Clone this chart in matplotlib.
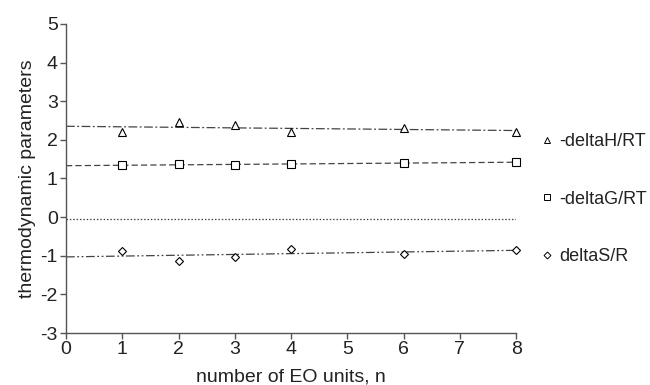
import numpy as np
import matplotlib.pyplot as plt
from matplotlib.lines import Line2D

plt.rcParams['font.family'] = ['Liberation Sans', 'DejaVu Sans']
plt.rcParams['axes.unicode_minus'] = False

# values
n = [1, 2, 3, 4, 6, 8]
dH = [2.21, 2.46, 2.39, 2.20, 2.30, 2.21]
dG = [1.35, 1.37, 1.36, 1.38, 1.41, 1.42]
dS = [-0.89, -1.13, -1.02, -0.82, -0.95, -0.85]

# trend lines (value at n=0 and n=8)
trend_n = [0, 8]
trend_dH = [2.35, 2.24]
trend_dG = [1.33, 1.42]
trend_dS = [-1.03, -0.86]
zero_line = [-0.05, -0.05]

labels = ['-deltaH/RT', '-deltaG/RT', 'deltaS/R']

fig = plt.figure(figsize=(6.5, 3.85), dpi=100)
ax = fig.add_axes([0.1015, 0.135, 0.6925, 0.803])

lc = '#444444'
ax.plot(trend_n, trend_dH, color=lc, lw=0.9, ls=(0, (7, 2, 1.5, 2)))
ax.plot(trend_n, trend_dG, color=lc, lw=0.9, ls=(0, (5, 2.5)))
ax.plot(trend_n, zero_line, color=lc, lw=0.9, ls=(0, (1.2, 1.5)))
ax.plot(trend_n, trend_dS, color=lc, lw=0.9, ls=(0, (7, 2, 1.5, 2, 1.5, 2)))

mk = dict(ls='none', mfc='white', mec='black', mew=0.8, clip_on=False, zorder=3)
ax.plot(n, dH, marker='^', ms=6, **mk)
ax.plot(n, dG, marker='s', ms=5.5, **mk)
ax.plot(n, dS, marker='D', ms=4.3, **mk)

ax.set_xlim(0, 8)
ax.set_ylim(-3, 5)
ax.set_xticks(range(0, 9))
ax.set_yticks(range(-3, 6))
for s in ['top', 'right']:
    ax.spines[s].set_visible(False)
for s in ['left', 'bottom']:
    ax.spines[s].set_color('#555555')
    ax.spines[s].set_linewidth(1.0)
ax.tick_params(direction='out', length=4, width=1, color='#555555',
               labelsize=14, labelcolor='#222222', pad=2)
ax.set_xlabel('number of EO units, n', fontsize=14, color='#222222', labelpad=7)
ax.set_ylabel('thermodynamic parameters', fontsize=14, color='#222222', labelpad=3)

handles = [
    Line2D([], [], ls='none', marker='^', ms=4.5, mfc='white', mec='black', mew=0.7),
    Line2D([], [], ls='none', marker='s', ms=4.5, mfc='white', mec='black', mew=0.7),
    Line2D([], [], ls='none', marker='D', ms=3.5, mfc='white', mec='black', mew=0.7),
]
leg = ax.legend(handles, labels, loc='upper left', bbox_to_anchor=(1.04, 0.67),
                frameon=False, fontsize=13, labelspacing=2.25, handlelength=0.6,
                handletextpad=0.4, borderaxespad=0)
for t in leg.get_texts():
    t.set_color('#222222')

fig.savefig('out.png', dpi=100)
